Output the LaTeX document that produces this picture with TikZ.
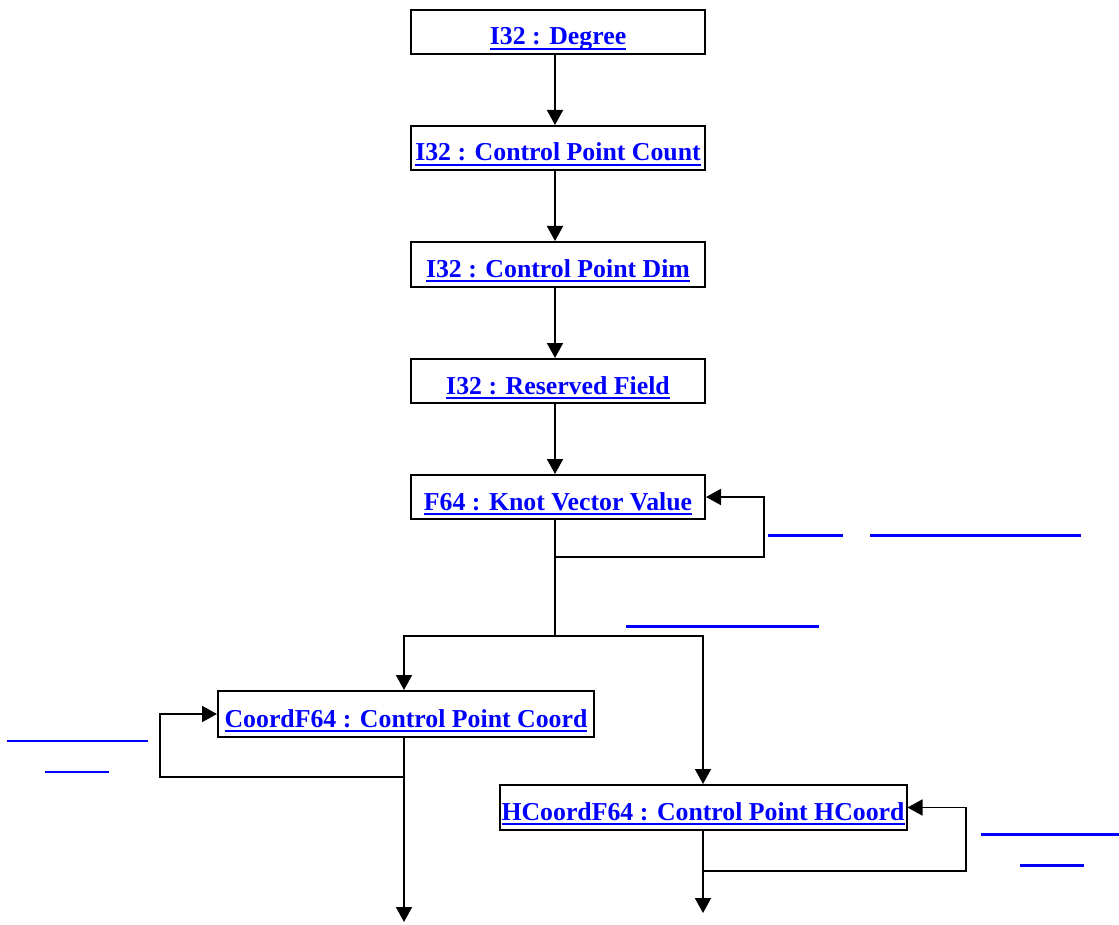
\documentclass[tikz,border=0pt]{standalone}
\usepackage{fontspec}
\setmainfont{Liberation Serif}
\usetikzlibrary{arrows.meta}
\definecolor{linkblue}{RGB}{0,0,255}
\newcommand{\lnk}[1]{\setbox0\hbox{#1}\rlap{\rule[-5pt]{\wd0}{2.2pt}}\box0}
\tikzset{
  box/.style={draw=black, line width=2pt, inner sep=0pt, fill=white},
  lbl/.style={anchor=base, inner sep=0pt, text=linkblue, font=\fontsize{25.8}{30}\selectfont\bfseries, color=linkblue},
  arr/.style={line width=1.8pt, -{Triangle[width=16pt,length=15pt]}},
  ln/.style={line width=1.8pt},
  blank/.style={draw=linkblue, line width=2.2pt},
}
\begin{document}
\begin{tikzpicture}[x=1pt,y=-1pt]
\useasboundingbox (0,0) rectangle (1119,925);
% boxes
\node[box, minimum width=294pt, minimum height=44pt] (b1) at (558,32) {};
\node[box, minimum width=294pt, minimum height=44pt] (b2) at (558,148) {};
\node[box, minimum width=294pt, minimum height=45pt] (b3) at (558,264.5) {};
\node[box, minimum width=294pt, minimum height=44pt] (b4) at (558,381) {};
\node[box, minimum width=294pt, minimum height=44pt] (b5) at (558,497) {};
\node[box, minimum width=376pt, minimum height=46pt] (b6) at (406,714) {};
\node[box, minimum width=407pt, minimum height=45pt] (b7) at (703,807.5) {};
% labels
\node[lbl] (t1) at ([yshift=-13pt]b1.center) {\lnk{I32 : Degree}};
\node[lbl] (t2) at ([yshift=-13pt]b2.center) {\lnk{I32 : Control Point Count}};
\node[lbl] (t3) at ([yshift=-13pt]b3.center) {\lnk{I32 : Control Point Dim}};
\node[lbl] (t4) at ([yshift=-13pt]b4.center) {\lnk{I32 : Reserved Field}};
\node[lbl] (t5) at ([yshift=-13pt]b5.center) {\lnk{F64 : Knot Vector Value}};
\node[lbl] (t6) at ([yshift=-13pt]b6.center) {\lnk{CoordF64 : Control Point Coord}};
\node[lbl] (t7) at ([yshift=-12.5pt]b7.center) {\lnk{HCoordF64 : Control Point HCoord}};
% straight chain
\draw[arr] ([xshift=-3pt]b1.south) -- ([xshift=-3pt]b2.north);
\draw[arr] ([xshift=-3pt]b2.south) -- ([xshift=-3pt]b3.north);
\draw[arr] ([xshift=-3pt]b3.south) -- ([xshift=-3pt]b4.north);
\draw[arr] ([xshift=-3pt]b4.south) -- ([xshift=-3pt]b5.north);
% knot loop
\coordinate (k1) at (555,557);
\coordinate (k2) at (555,636);
\draw[arr] ([xshift=-3pt]b5.south) -- (k1) -- (764,557) |- (b5.east);
\draw[ln] (k1) -- (k2);
\draw[arr] (k2) -| ([xshift=-2pt]b6.north);
\draw[arr] (k2) -| (b7.north);
% coord loop
\coordinate (c1) at (404,777);
\coordinate (c2) at (404,922);
\draw[arr] ([xshift=-2pt]b6.south) -- (c1) -- (160,777) |- (b6.west);
\draw[arr] (c1) -- (c2);
% hcoord loop
\coordinate (h1) at (703,871);
\coordinate (h2) at (703,913);
\draw[arr] (b7.south) -- (h1) -- (966,871) |- (b7.east);
\draw[arr] (h1) -- (h2);
% empty link underlines
\draw[blank] (768,535.5) -- (843,535.5);
\draw[blank] (870,535.5) -- (1081,535.5);
\draw[blank] (626,626.5) -- (819,626.5);
\draw[blank] (7,741) -- (148,741);
\draw[blank] (45,772) -- (109,772);
\draw[blank] (981,834.5) -- (1119,834.5);
\draw[blank] (1020,865.5) -- (1084,865.5);
\end{tikzpicture}
\end{document}
